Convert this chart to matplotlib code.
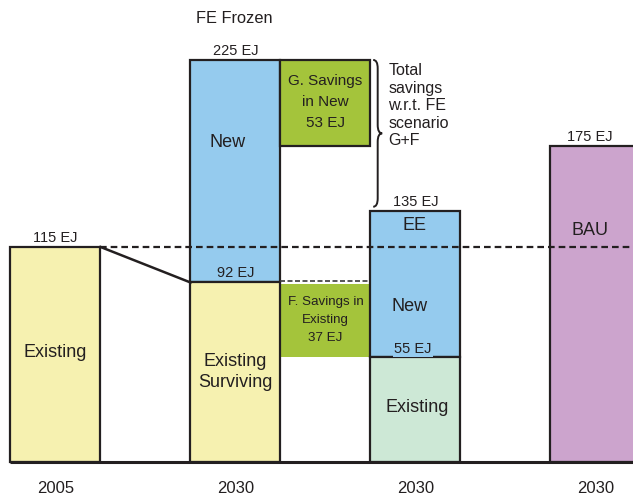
import matplotlib
matplotlib.use("Agg")
import matplotlib.pyplot as plt
from matplotlib.patches import Rectangle, PathPatch
from matplotlib.path import Path

plt.rcParams['font.family'] = ['Liberation Sans', 'DejaVu Sans']

# ---- data (schematic heights as drawn, and the labelled values) ----
year_labels = ["2005", "2030", "2030", "2030"]
bar_pos = [0, 1, 2, 3]

existing_2005 = 115          # drawn height of 2005 bar
surviving_2030 = 96          # drawn top of "Existing Surviving"
fe_frozen_total = 215        # drawn top of FE Frozen bar
g_savings_bottom = 169       # drawn bottom of G box
f_savings = (56, 96)         # drawn range of F box
ee_existing = 56             # drawn top of Existing in EE bar
ee_total = 134               # drawn top of EE bar
bau_total = 169              # drawn top of BAU bar

value_labels = {"2005": "115 EJ", "surv": "92 EJ", "fe": "225 EJ",
                "ee": "135 EJ", "ee_exist": "55 EJ", "bau": "175 EJ"}
g_text = "G. Savings\nin New\n53 EJ"
f_text = "F. Savings in\nExisting\n37 EJ"
brace_text = "Total\nsavings\nw.r.t. FE\nscenario\nG+F"

# ---- style ----
YELLOW = "#F6F1B0"
BLUE = "#95CBEE"
GREEN = "#A4C43B"
MINT = "#CDE8D6"
PURPLE = "#CCA4CD"
EDGE = "#231F20"
LW = 1.6
W = 0.5

fig = plt.figure(figsize=(6.33, 4.95), dpi=100)
ax = fig.add_axes([0, 0, 1, 1])
ax.set_xlim(-0.3083, -0.3083 + 633 / 180)
ax.set_ylim(-33 / 1.87, 462 / 1.87)
ax.axis("off")


def rect(xc, y0, y1, color, edge=True, width=W, z=2):
    r = Rectangle((xc - width / 2, y0), width, y1 - y0, facecolor=color,
                  edgecolor=EDGE if edge else "none", lw=LW if edge else 0, zorder=z)
    ax.add_patch(r)
    return r

# 2005 bar
rect(bar_pos[0], 0, existing_2005, YELLOW)
# FE Frozen bar
rect(bar_pos[1], surviving_2030, fe_frozen_total, BLUE)
rect(bar_pos[1], 0, surviving_2030, YELLOW)
# G and F boxes
rect(bar_pos[1] + 0.5, g_savings_bottom, fe_frozen_total, GREEN)
rect(bar_pos[1] + 0.5, f_savings[0], f_savings[1] - 1, GREEN, edge=False, z=1)
# EE bar
rect(bar_pos[2], ee_existing, ee_total, BLUE)
rect(bar_pos[2], 0, ee_existing, MINT)
# BAU bar
rect(bar_pos[3], 0, bau_total, PURPLE)

# baseline
ax.plot([bar_pos[0] - W / 2, 3.3], [0, 0], color=EDGE, lw=2.2, zorder=4,
        solid_capstyle="butt")
# dashed reference line at 2005 level
ax.plot([bar_pos[0] + W / 2, 3.3], [existing_2005, existing_2005], color=EDGE,
        lw=1.6, ls=(0, (3, 1.8)), zorder=5)
# short dashed line at surviving level
ax.plot([bar_pos[1] + W / 2, bar_pos[2] - W / 2], [surviving_2030 + 0.6] * 2,
        color="#3a3a3a", lw=1.2, ls=(0, (3, 1.5)), zorder=5)
# diagonal connector
ax.plot([bar_pos[0] + W / 2, bar_pos[1] - W / 2], [existing_2005, surviving_2030],
        color=EDGE, lw=1.8, zorder=5)

# curly brace
x0 = bar_pos[2] - W / 2 + 0.015
bw = 0.05
yt, yb = fe_frozen_total, ee_total + 2.5
ym = (yt + yb) / 2
r = 4.5
verts = [(x0, yt), (x0 + bw / 2, yt), (x0 + bw / 2, yt - r),
         (x0 + bw / 2, ym + r),
         (x0 + bw / 2, ym), (x0 + bw, ym),
         (x0 + bw / 2, ym), (x0 + bw / 2, ym - r),
         (x0 + bw / 2, yb + r),
         (x0 + bw / 2, yb), (x0, yb)]
codes = [Path.MOVETO, Path.CURVE3, Path.CURVE3, Path.LINETO,
         Path.CURVE3, Path.CURVE3, Path.CURVE3, Path.CURVE3,
         Path.LINETO, Path.CURVE3, Path.CURVE3]
ax.add_patch(PathPatch(Path(verts, codes), facecolor="none", edgecolor=EDGE,
                       lw=1.4, zorder=5))

TC = EDGE
VF = 10.5   # value-label font size
LF = 13     # bar-label font size
# texts
ax.text(bar_pos[1] - 0.005, 237, "FE Frozen", ha="center", va="center", fontsize=11.8, color=TC)
ax.text(bar_pos[1], fe_frozen_total + 1.3, value_labels["fe"], ha="center",
        va="bottom", fontsize=VF, color=TC)
ax.text(bar_pos[0], existing_2005 + 1.3, value_labels["2005"], ha="center",
        va="bottom", fontsize=VF, color=TC)
ax.text(bar_pos[1], surviving_2030 + 1.3, value_labels["surv"], ha="center",
        va="bottom", fontsize=VF, color=TC, zorder=6)
ax.text(bar_pos[2], ee_total + 1.3, value_labels["ee"], ha="center",
        va="bottom", fontsize=VF, color=TC)
ax.text(bar_pos[2] - 0.015, ee_existing + 4.5, value_labels["ee_exist"], ha="center",
        va="center", fontsize=VF, color=TC, zorder=6,
        bbox=dict(facecolor=BLUE, edgecolor="none", pad=0.8))
ax.text(bar_pos[3] - 0.03, bau_total + 1.3, value_labels["bau"], ha="center",
        va="bottom", fontsize=VF, color=TC)

ax.text(bar_pos[1] - 0.045, 171, "New", ha="center", va="center", fontsize=LF, color=TC)
ax.text(bar_pos[1], 48.0, "Existing\nSurviving", ha="center", va="center",
        fontsize=LF, color=TC, linespacing=1.33)
ax.text(bar_pos[0], 58.3, "Existing", ha="center", va="center", fontsize=LF, color=TC)
ax.text(bar_pos[2] - 0.005, 126.7, "EE", ha="center", va="center", fontsize=LF, color=TC)
ax.text(bar_pos[2] - 0.035, 83.4, "New", ha="center", va="center", fontsize=LF, color=TC)
ax.text(bar_pos[2] + 0.01, 28.9, "Existing", ha="center", va="center", fontsize=LF, color=TC)
ax.text(bar_pos[3] - 0.03, 124, "BAU", ha="center", va="center", fontsize=LF, color=TC)

ax.text(bar_pos[1] + 0.5, 192.5, g_text, ha="center", va="center", fontsize=11,
        color=TC, linespacing=1.6)
ax.text(bar_pos[1] + 0.5, 76, f_text, ha="center", va="center", fontsize=9.6,
        color=TC, linespacing=1.68)
ax.text(bar_pos[2] - W / 2 + 0.1, 190.5, brace_text, ha="left", va="center",
        fontsize=11.5, color=TC, linespacing=1.2)

for xp, lab in zip(bar_pos, year_labels):
    ax.text(xp, -14, lab, ha="center", va="center", fontsize=12, color=TC)

fig.savefig("out.png", dpi=100)
